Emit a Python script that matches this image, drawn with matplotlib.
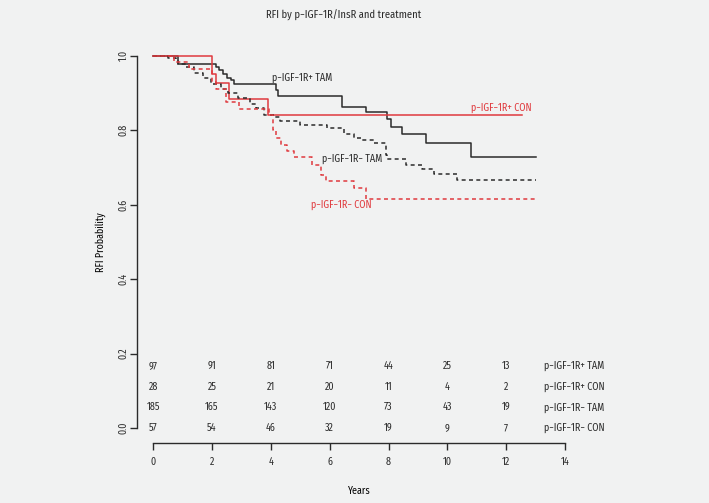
import matplotlib.pyplot as plt
from matplotlib import font_manager

# survival curves (step changes: time in years, probability)
pos_tam_t = [0, 0.84, 2.14, 2.25, 2.36, 2.5, 2.64, 2.76, 4.17, 4.25, 6.41, 7.25, 7.95, 8.07, 8.46, 9.29, 10.81, 13.02]
pos_tam_s = [1.0, 0.978, 0.971, 0.962, 0.951, 0.94, 0.935, 0.925, 0.909, 0.891, 0.864, 0.849, 0.831, 0.81, 0.79, 0.765, 0.727, 0.727]

pos_con_t = [0, 1.99, 2.14, 2.59, 3.89, 12.53]
pos_con_s = [1.0, 0.95, 0.927, 0.884, 0.841, 0.841]

neg_tam_t = [0, 0.5, 0.78, 0.84, 1.1, 1.4, 1.7, 1.97, 2.3, 2.53, 2.87, 3.3, 3.49, 3.77, 4.11, 4.3, 5.0,
             5.9, 6.5, 6.82, 7.1, 7.5, 7.9, 7.95, 8.58, 9.14, 9.54, 10.33, 13.0]
neg_tam_s = [1.0, 0.995, 0.989, 0.977, 0.97, 0.955, 0.94, 0.925, 0.91, 0.90, 0.887, 0.87, 0.86, 0.842, 0.836,
             0.825, 0.815, 0.806, 0.79, 0.78, 0.775, 0.766, 0.735, 0.722, 0.707, 0.696, 0.683, 0.666, 0.666]

neg_con_t = [0, 0.72, 1.23, 2.0, 2.14, 2.47, 2.93, 3.95, 4.08, 4.17, 4.34, 4.56, 4.79, 5.41, 5.69, 5.86, 6.82, 7.22, 13.02]
neg_con_s = [1.0, 0.983, 0.964, 0.93, 0.91, 0.877, 0.857, 0.841, 0.80, 0.78, 0.76, 0.745, 0.727, 0.707, 0.68, 0.665, 0.645, 0.615, 0.615]

# numbers at risk
risk_times = [0, 2, 4, 6, 8, 10, 12]
risk_pos_tam = [97, 91, 81, 71, 44, 25, 13]
risk_pos_con = [28, 25, 21, 20, 11, 4, 2]
risk_neg_tam = [185, 165, 143, 120, 73, 43, 19]
risk_neg_con = [57, 54, 46, 32, 19, 9, 7]
group_names = ["p\u2212IGF\u22121R+ TAM", "p\u2212IGF\u22121R+ CON", "p\u2212IGF\u22121R\u2212 TAM", "p\u2212IGF\u22121R\u2212 CON"]

bg = '#f1f2f2'
red = '#e03a3e'
dark = '#2b2b2b'

# the original is set in a condensed humanist face; take the closest one installed
narrow = None
for want in ['FiraSansCondensed-Regular', 'PTSansNarrow-Regular', 'PT_Sans-Narrow-Web-Regular',
             'OpenSans_Condensed-Regular', 'OpenSansCondensed-Regular', 'RobotoCondensed-Regular',
             'AsapCondensed-Regular', 'BarlowSemiCondensed-Regular', 'LiberationSansNarrow-Regular',
             'ArchivoNarrow[wght]']:
    for f in font_manager.fontManager.ttflist:
        if want in f.fname:
            narrow = f
            break
    if narrow:
        break

fs = 7.2
if narrow:
    fam = [narrow.name, 'DejaVu Sans']
    stretch = narrow.stretch
else:
    fam = ['DejaVu Sans']
    stretch = 'normal'
    fs = 6.0
fp = font_manager.FontProperties(family=fam, stretch=stretch, weight='normal', style='normal', size=fs)
fp_title = fp.copy()
fp_title.set_size(fs + 0.4)

fig = plt.figure(figsize=(7.09, 5.03), dpi=100, facecolor=bg)
ax = fig.add_axes([0.1928, 0.1193, 0.6274, 0.7992])
ax.set_facecolor(bg)

lw = 1.1
dash = (0, (2.6, 2.2))
ax.step(pos_tam_t, pos_tam_s, where='post', color=dark, lw=lw)
ax.step(pos_con_t, pos_con_s, where='post', color=red, lw=lw)
ax.step(neg_tam_t, neg_tam_s, where='post', color=dark, lw=lw, linestyle=dash)
ax.step(neg_con_t, neg_con_s, where='post', color=red, lw=lw, linestyle=dash)

ax.text(4.05, 0.942, group_names[0], color=dark, fontproperties=fp, va='center')
ax.text(10.8, 0.861, group_names[1], color=red, fontproperties=fp, va='center')
ax.text(5.75, 0.723, group_names[2], color=dark, fontproperties=fp, va='center')
ax.text(5.38, 0.600, group_names[3], color=red, fontproperties=fp, va='center')

rows = [risk_pos_tam, risk_pos_con, risk_neg_tam, risk_neg_con]
row_y = [0.167, 0.111, 0.056, 0.0]
for counts, yy, name in zip(rows, row_y, group_names):
    for t, n in zip(risk_times, counts):
        ax.text(t, yy, str(n), fontproperties=fp, ha='center', va='center', color=dark)
    ax.text(13.3, yy, name, fontproperties=fp, ha='left', va='center', color=dark)

ax.set_xlim(-0.56, 14.56)
ax.set_ylim(-0.04, 1.04)
ax.set_xticks(range(0, 15, 2))
ax.set_xticklabels([str(v) for v in range(0, 15, 2)], fontproperties=fp)
ax.set_yticks([0, 0.2, 0.4, 0.6, 0.8, 1.0])
ax.set_yticklabels(['0.0', '0.2', '0.4', '0.6', '0.8', '1.0'], rotation=90, va='center', fontproperties=fp)
for s in ['top', 'right']:
    ax.spines[s].set_visible(False)
ax.spines['bottom'].set_bounds(0, 14)
ax.spines['left'].set_bounds(0, 1)
for s in ['bottom', 'left']:
    ax.spines[s].set_color(dark)
    ax.spines[s].set_linewidth(1.0)
ax.tick_params(colors=dark, length=5, width=1.0)
ax.tick_params(axis='x', pad=5)
ax.tick_params(axis='y', pad=0.5)

ax.set_xlabel('Years', fontproperties=fp, labelpad=13)
ax.set_ylabel('RFI Probability', fontproperties=fp, labelpad=9)
fig.text(0.484, 0.970, 'RFI by p\u2212IGF\u22121R/InsR and treatment', fontproperties=fp_title,
         ha='center', va='center', color=dark)

fig.savefig('out.png', dpi=100, facecolor=bg)
